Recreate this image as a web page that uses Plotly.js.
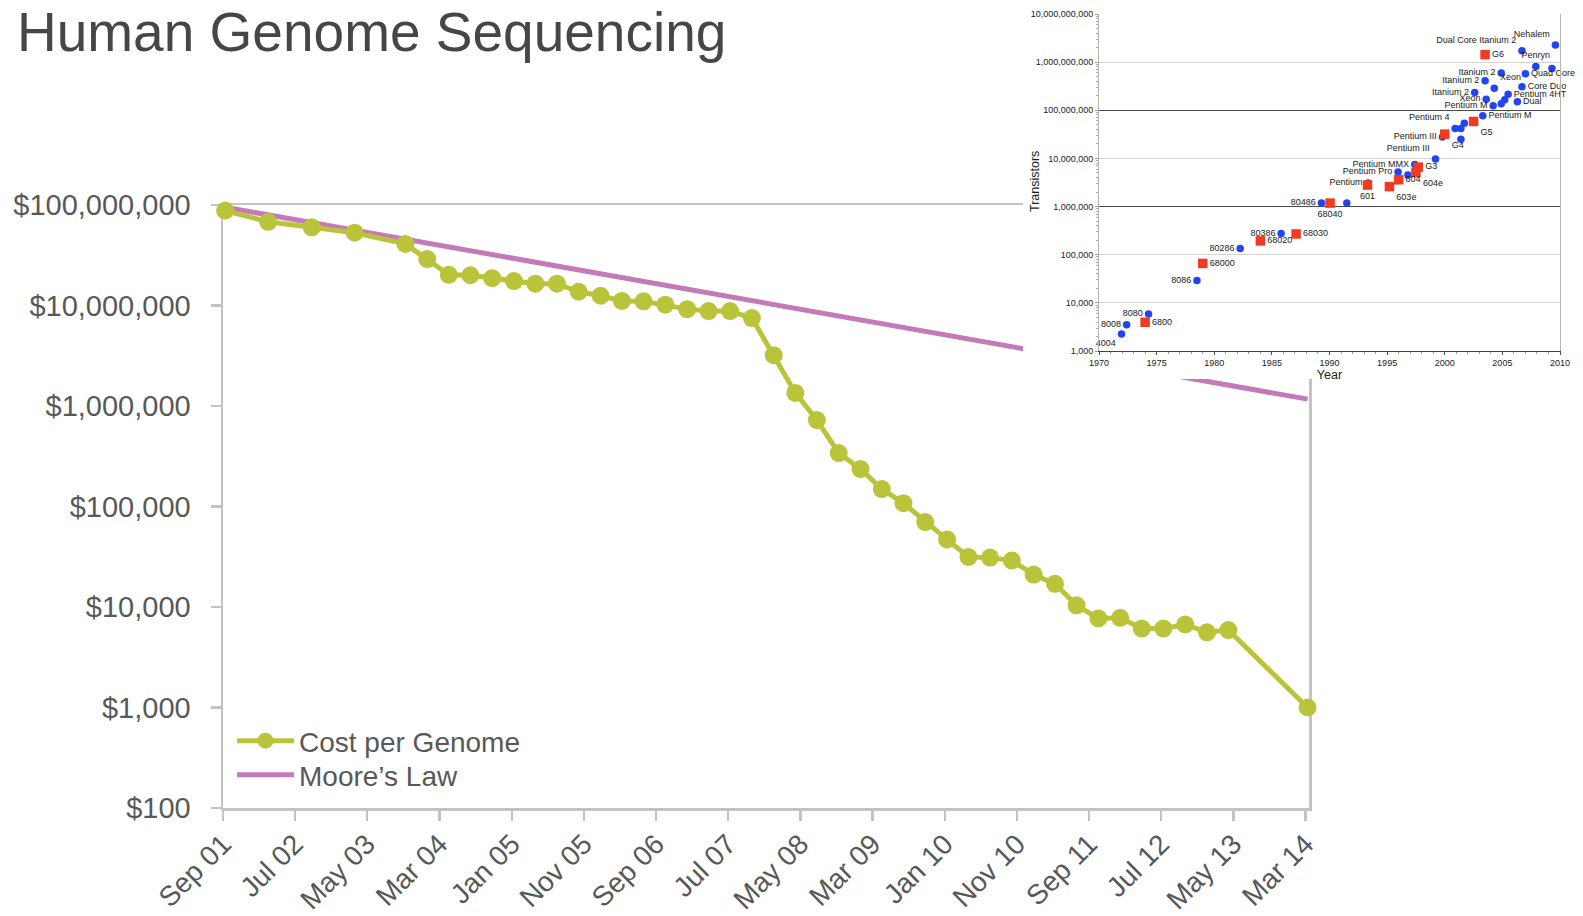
<!DOCTYPE html>
<html><head><meta charset="utf-8">
<script src="https://cdn.plot.ly/plotly-3.0.1.min.js"></script>
<style>html,body{margin:0;padding:0;background:#fff;}#chart{width:1583px;height:916px;}</style>
</head><body><div id="chart"></div>
<script>
// ---------- main chart data ----------
const chartTitle = 'Human Genome Sequencing';
const seriesNames = ['Cost per Genome', 'Moore\u2019s Law'];
const genomeDates = ['2001-09-10','2002-03-10','2002-09-10','2003-03-10','2003-10-10','2004-01-10','2004-04-10','2004-07-10','2004-10-10','2005-01-10','2005-04-10','2005-07-10','2005-10-10','2006-01-10','2006-04-10','2006-07-10','2006-10-10','2007-01-10','2007-04-10','2007-07-10','2007-10-10','2008-01-10','2008-04-10','2008-07-10','2008-10-10','2009-01-10','2009-04-10','2009-07-10','2009-10-10','2010-01-10','2010-04-10','2010-07-10','2010-10-10','2011-01-10','2011-04-10','2011-07-10','2011-10-10','2012-01-10','2012-04-10','2012-07-10','2012-10-10','2013-01-10','2013-04-10','2014-03-10'];
const genomeCost = [88000000,68000000,60000000,53000000,41000000,29000000,20200000,20000000,18700000,17500000,16500000,16500000,13700000,12500000,11100000,11000000,10200000,9200000,8800000,8800000,7500000,3200000,1350000,725000,340000,236000,149000,108000,70000,47000,31500,31000,29000,21000,17000,10400,7700,7800,6100,6100,6700,5600,5900,1000];
const mooreDates = ['2001-09-10','2014-03-10'];
const mooreCost = [95000000, 1170000];

// ---------- inset (transistor counts) data ----------
const insetXTitle = 'Year';
const insetYTitle = 'Transistors';
const intelNames = ['4004','8008','8080','8086','80286','80386','80486','','Pentium','Pentium Pro','','Pentium MMX','Pentium III','Pentium III','Pentium 4','','','','Itanium 2','Pentium M','Xeon','Itanium 2','Pentium M','','Xeon','Itanium 2','','Pentium 4HT','Dual','Core Duo','Dual Core Itanium 2','Quad Core','Penryn','','Nehalem',''];
const intelYears = [1971.95,1972.4,1974.3,1978.5,1982.25,1985.8,1989.3,1991.5,1993.35,1995.95,1996.8,1997.4,1999.2,1999.8,2000.9,2001.4,2001.7,2001.4,2002.6,2003.3,2003.6,2003.5,2004.2,2004.9,2004.3,2004.9,2005.2,2005.5,2006.3,2006.7,2006.7,2007.0,2007.9,2009.3,2009.6,2010.3];
const intelCounts = [2250,3500,5900,29000,134000,275000,1180000,1180000,3100000,5200000,4500000,7500000,9700000,28000000,42000000,42000000,54000000,25000000,235e6,77e6,170e6,410e6,124e6,137e6,288e6,593e6,165e6,215e6,150e6,310e6,1.73e9,574e6,815e6,740e6,2.26e9,1.9e9];
const otherNames = ['6800','68000','68020','68030','68040','601','603e','604','604e','G3','G4','G5','G6'];
const otherYears = [1974.0,1979.0,1984.0,1987.1,1990.05,1993.3,1995.2,1996.0,1997.5,1997.7,2000.0,2002.5,2003.5];
const otherCounts = [3950,66000,194000,270000,1180000,2800000,2600000,3600000,5100000,6600000,32000000,58600000,1.43e9];

// label placement (style, kept apart from data)
const intelLabelPos = ['bottom left','middle left','middle left','middle left','middle left','middle left','middle left','middle right','middle left','middle left','middle right','middle left','top left','middle left','top left','middle right','middle right','middle right','middle left','middle right','middle left','middle left','middle left','middle right','top right','middle left','middle right','middle right','middle right','middle right','top left','middle right','top center','middle right','top left','middle right'];
const otherLabelPos = ['middle right','middle right','middle right','middle right','bottom center','bottom center','bottom right','middle right','bottom right','middle right','bottom right','bottom right','middle right'];

// ---------- geometry helpers ----------
const W = 1583, H = 916;
const px = v => v / W;
const py = v => 1 - v / H;

const FONT = '"Liberation Sans", Arial, Helvetica, sans-serif';
const TEXT = '#585858';
const AXIS = '#c4c4c4';
const GREEN = '#bac43a';
const PURPLE = '#c479b8';

const traces = [
  {
    x: mooreDates, y: mooreCost, name: seriesNames[1], type: 'scatter', mode: 'lines',
    line: {color: PURPLE, width: 5}, xaxis: 'x', yaxis: 'y', legend: 'legend2', cliponaxis: false
  },
  {
    x: genomeDates, y: genomeCost, name: seriesNames[0], type: 'scatter', mode: 'lines+markers',
    line: {color: GREEN, width: 5}, marker: {color: GREEN, size: 18},
    xaxis: 'x', yaxis: 'y', legend: 'legend', cliponaxis: false
  },
  // background holder for inset (hides the main chart beneath it)
  {x: [null], y: [null], xaxis: 'x2', yaxis: 'y2', type: 'scatter', mode: 'markers', showlegend: false, hoverinfo: 'skip'},
  // helper for darker grid lines of the inset
  {x: [null], y: [null], xaxis: 'x3', yaxis: 'y4', type: 'scatter', mode: 'markers', showlegend: false, hoverinfo: 'skip'},
  {
    x: intelYears, y: intelCounts, text: intelNames, textposition: intelLabelPos,
    type: 'scatter', mode: 'markers+text', xaxis: 'x3', yaxis: 'y3', showlegend: false,
    marker: {color: '#2344f2', size: 7.5, symbol: 'circle'},
    textfont: {family: FONT, size: 9, color: '#1a1a1a'}, cliponaxis: false
  },
  {
    x: otherYears, y: otherCounts, text: otherNames, textposition: otherLabelPos,
    type: 'scatter', mode: 'markers+text', xaxis: 'x3', yaxis: 'y3', showlegend: false,
    marker: {color: '#f03b22', size: 9.5, symbol: 'square'},
    textfont: {family: FONT, size: 9, color: '#1a1a1a'}, cliponaxis: false
  }
];

const legendBase = {
  xanchor: 'left', yanchor: 'middle', bgcolor: 'rgba(0,0,0,0)', borderwidth: 0,
  itemwidth: 57, font: {family: FONT, size: 28, color: TEXT}
};

const layout = {
  width: W, height: H,
  margin: {l: 0, r: 0, t: 0, b: 0},
  paper_bgcolor: '#ffffff', plot_bgcolor: '#ffffff',
  font: {family: FONT, color: TEXT, size: 28},
  hovermode: false,
  showlegend: true,
  title: {
    text: chartTitle, x: px(17), xanchor: 'left', xref: 'paper',
    y: py(32), yanchor: 'middle', yref: 'paper',
    font: {family: FONT, size: 55, color: '#464646'}
  },
  xaxis: {
    type: 'date', domain: [px(223), px(1309)], range: ['2001-09-01', '2014-03-16'],
    tick0: '2001-09-01', dtick: 'M10', tickformat: '%b %y', tickangle: -45,
    ticks: 'outside', ticklen: 10, tickwidth: 2.5, tickcolor: AXIS,
    showline: true, linecolor: AXIS, linewidth: 2.5, mirror: true,
    showgrid: false, zeroline: false, layer: 'below traces',
    tickfont: {family: FONT, size: 28, color: TEXT}, anchor: 'y', fixedrange: true,
    ticklabelstandoff: -4
  },
  yaxis: {
    type: 'log', domain: [py(808), py(205)], range: [2, 8], dtick: 1,
    tickprefix: '$', tickformat: ',d',
    ticks: 'outside', ticklen: 10, tickwidth: 2.5, tickcolor: AXIS,
    showline: true, linecolor: AXIS, linewidth: 2.5, mirror: true,
    showgrid: false, zeroline: false, layer: 'below traces',
    tickfont: {family: FONT, size: 29, color: TEXT}, anchor: 'x', fixedrange: true,
    ticklabelstandoff: 14
  },
  xaxis2: {domain: [px(1023), 1], range: [0, 1], visible: false, anchor: 'y2', fixedrange: true},
  yaxis2: {domain: [py(379), 1], range: [0, 1], visible: false, anchor: 'x2', fixedrange: true},
  xaxis3: {
    domain: [px(1099), px(1560)], range: [1970, 2010], tick0: 1970, dtick: 5, anchor: 'y3',
    ticks: 'outside', ticklen: 3, tickcolor: '#555', tickwidth: 1,
    showline: true, linecolor: '#444', linewidth: 1.2, showgrid: false, zeroline: false,
    tickfont: {family: FONT, size: 9, color: '#222'},
    title: {text: insetXTitle, font: {family: FONT, size: 12.5, color: '#222'}, standoff: 1},
    minor: {ticks: 'outside', ticklen: 2, dtick: 1, tickcolor: '#999'},
    fixedrange: true
  },
  yaxis3: {
    domain: [py(351), py(14)], type: 'log', range: [3, 10], dtick: 1, tickformat: ',d', anchor: 'x3',
    ticks: 'outside', ticklen: 3, tickcolor: '#999', tickwidth: 1,
    showline: true, linecolor: '#b5b5b5', linewidth: 1, mirror: true,
    showgrid: true, gridcolor: '#d2d2d2', gridwidth: 1, zeroline: false,
    tickfont: {family: FONT, size: 9, color: '#222'},
    minor: {ticks: 'outside', ticklen: 2, tickcolor: '#aaa'},
    fixedrange: true
  },
  yaxis4: {
    overlaying: 'y3', type: 'log', range: [3, 10], anchor: 'x3',
    tickvals: [1e6, 1e8], showticklabels: false, ticks: '',
    showgrid: true, gridcolor: '#4a4a4a', gridwidth: 1.2,
    showline: false, zeroline: false, fixedrange: true
  },
  annotations: [
    {
      text: insetYTitle, textangle: -90, xref: 'paper', yref: 'paper',
      x: px(1035), y: py(182), xanchor: 'center', yanchor: 'middle', showarrow: false,
      font: {family: FONT, size: 12.5, color: '#222'}
    }
  ],
  legend: Object.assign({}, legendBase, {x: px(232), y: py(741)}),
  legend2: Object.assign({}, legendBase, {x: px(232), y: py(775)})
};

Plotly.newPlot('chart', traces, layout, {displayModeBar: false, staticPlot: true, responsive: false});
</script>
</body></html>
